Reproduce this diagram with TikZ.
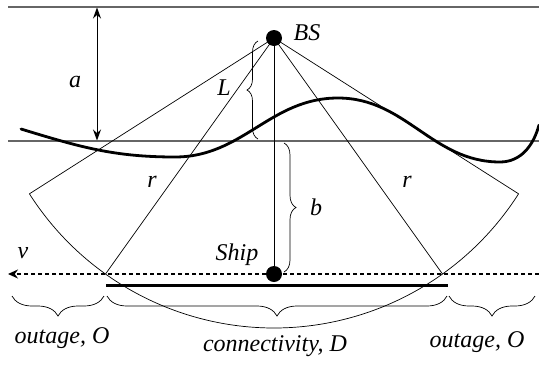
\documentclass[tikz,border=0pt]{standalone}
\usepackage{fontspec}
\setmainfont{Liberation Serif}
\usetikzlibrary{decorations.pathreplacing,arrows.meta}
\begin{document}
\begin{tikzpicture}[x=1pt,y=-1pt,
  thinline/.style={line width=0.7pt},
  lbl/.style={font=\fontsize{24}{28}\selectfont\itshape, inner sep=0pt},
  dot/.style={circle,fill=black,minimum size=16pt,inner sep=0pt},
  guide/.style={draw=black!60,line width=1.2pt},
  brc/.style={draw,decorate,decoration={brace,amplitude=#1},line width=0.7pt}]
\useasboundingbox (0,0) rectangle (539,365);
% reference lines
\coordinate (t1) at (8,7);
\coordinate (t2) at (539,7);
\coordinate (m1) at (8,141);
\coordinate (m2) at (539,141);
\draw[guide] (t1) -- (t2);
\draw[guide] (m1) -- (m2);
% wavy surface
\coordinate (w0) at (21,129);
\coordinate (w1) at (175,157);
\coordinate (w2) at (338,98);
\coordinate (w3) at (500,162);
\coordinate (w4) at (539,125);
\draw[line width=2.8pt, line cap=round] (w0) to[out=-17,in=180] (w1) to[out=0,in=180] (w2) to[out=0,in=180] (w3) to[out=0,in=-105] (w4);
% nodes
\node[dot] (bs) at (274,38) {};
\node[dot] (ship) at (274,274) {};
\coordinate (lc) at (29.42,193.82);
\coordinate (rc) at (518.58,193.82);
\coordinate (pl) at (105.5,274);
\coordinate (pr) at (442.5,274);
% sector
\draw[thinline] (lc) arc[start angle=147.5,end angle=32.5,radius=290];
\draw[thinline] (lc) -- (bs.center) -- (rc);
\draw[thinline] (pl) -- (bs.center) -- (pr);
\draw[thinline] (bs.center) -- (ship.center);
% ship track
\coordinate (d1) at (539,274);
\coordinate (d2) at (8,274);
\draw[line width=1.3pt, dash pattern=on 4pt off 3pt, -{Stealth[length=10pt,width=9pt]}] (d1) -- (d2);
\coordinate (s1) at (106,285);
\coordinate (s2) at (448,285);
\draw[line width=3pt] (s1) -- (s2);
% a arrow
\coordinate (a1) at (97,7.5);
\coordinate (a2) at (97,140.5);
\draw[line width=0.9pt, {Stealth[length=11pt,width=8pt]}-{Stealth[length=11pt,width=8pt]}] (a1) -- (a2);
% braces
\coordinate (L1) at (258,139);
\coordinate (L2) at (258,41);
\draw[brc=11] (L1) -- (L2);
\coordinate (b1) at (284,143);
\coordinate (b2) at (284,272);
\draw[brc=12] (b1) -- (b2);
\coordinate (o1a) at (104,296);
\coordinate (o1b) at (12,296);
\draw[brc=20] (o1a) -- (o1b);
\coordinate (c1a) at (447,296);
\coordinate (c1b) at (107,296);
\draw[brc=20] (c1a) -- (c1b);
\coordinate (o2a) at (535,296);
\coordinate (o2b) at (449,296);
\draw[brc=20] (o2a) -- (o2b);
% labels
\node[lbl] (lbs) at (307,33) {BS};
\node[lbl] (lship) at (237,255) {Ship};
\node[lbl] (lv) at (23,253) {v};
\node[lbl] (la) at (75,82) {a};
\node[lbl] (lL) at (224,88) {L};
\node[lbl] (lb) at (316,207) {b};
\node[lbl] (lr1) at (152,182) {r};
\node[lbl] (lr2) at (407,182) {r};
\node[lbl] (lo1) at (62,338) {outage, O};
\node[lbl] (lcd) at (275,346) {connectivity, D};
\node[lbl] (lo2) at (477,342) {outage, O};
\end{tikzpicture}
\end{document}
